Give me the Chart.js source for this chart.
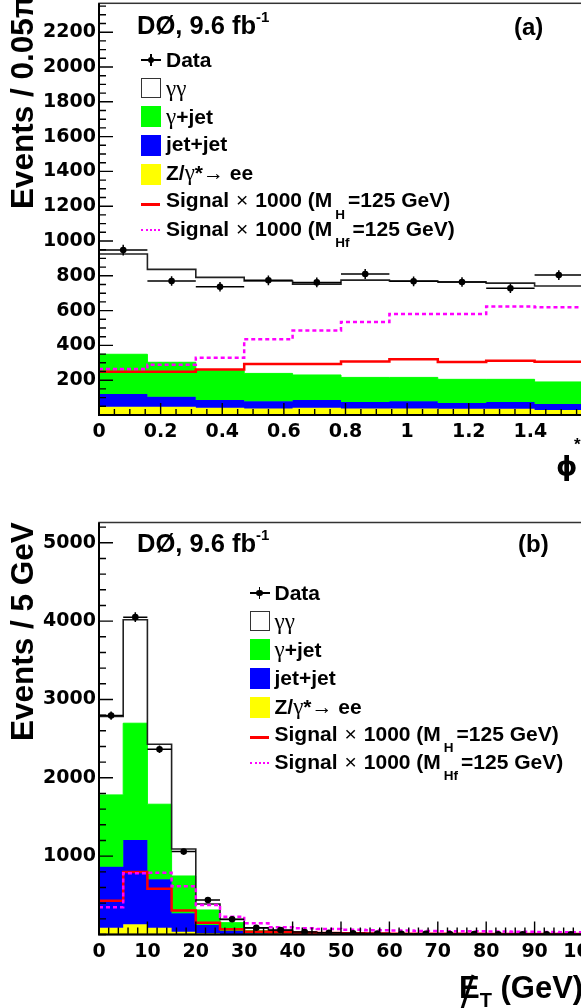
<!DOCTYPE html>
<html>
<head>
<meta charset="utf-8">
<script src="https://cdn.jsdelivr.net/npm/chart.js@4.4.0/dist/chart.umd.min.js"></script>
<style>
  html, body { margin: 0; padding: 0; width: 581px; height: 1008px; overflow: hidden; background: #fff; }
  canvas { position: absolute; left: 0; }
  #overlay { position: absolute; left: 0; top: 0; width: 581px; height: 1008px; }
  .t { position: absolute; white-space: nowrap; font-family: "Liberation Sans", Arial, sans-serif;
       font-weight: bold; color: #000; line-height: 1; }
  .g { font-family: "Liberation Serif", serif; font-weight: normal; font-size: 23px; }
  .n { font-weight: normal; }
  .x { font-weight: normal; margin: 0 7px; }
  .sb { font-size: 13.5px; position: relative; top: 11.5px; margin: 0 3px; }
  .sp { font-size: 15px; position: relative; top: -12px; }
  .mk { position: absolute; box-sizing: border-box; }
</style>
</head>
<body>
<canvas id="phiChart" width="640" height="500" style="top:0"></canvas>
<canvas id="metChart" width="640" height="508" style="top:500px"></canvas>
<div id="overlay"></div>
<script>
// (a) phi*, bins of 0.05*pi
const phiEdges  = [0, 0.1571, 0.3142, 0.4712, 0.6283, 0.7854, 0.9425, 1.0996, 1.2566, 1.4137, 1.5708];
const phiData   = [948, 770, 737, 774, 762, 810, 768, 764, 728, 804];
const phiGG     = [576, 534, 536, 531, 522, 559, 554, 559, 553, 551];
const phiGJet   = [228, 198, 169, 160, 144, 141, 137, 136, 130, 127];
const phiJetJet = [73, 57, 44, 41, 44, 37, 41, 33, 39, 34];
const phiZee    = [48, 48, 42, 38, 42, 38, 38, 36, 36, 29];
const phiSigH   = [249, 249, 262, 293, 293, 308, 320, 304, 312, 306];
const phiSigHf  = [264, 289, 329, 435, 486, 534, 580, 580, 624, 619];

// (b) missing ET, 5 GeV bins
const metEdges  = [0, 5, 10, 15, 20, 25, 30, 35, 40, 45, 50, 55, 60, 65, 70, 75, 80, 85, 90, 95, 100];
const metData   = [2794, 4051, 2365, 1058, 441, 194, 87, 57, 32, 22, 15, 12, 10, 8, 6, 5, 4, 3, 3, 2];
const metGG     = [1000, 1320, 766, 345, 77, 40, 37, 27, 18, 12, 8, 6, 5, 4, 3, 3, 2, 2, 2, 1];
const metGJet   = [916, 1490, 958, 476, 192, 106, 35, 15, 8, 5, 4, 3, 2, 2, 1, 1, 1, 1, 1, 1];
const metJetJet = [781, 1075, 620, 236, 106, 39, 8, 5, 3, 2, 2, 1, 1, 1, 1, 1, 1, 0, 0, 0];
const metZee    = [85, 132, 85, 35, 15, 6, 4, 3, 2, 2, 1, 1, 1, 1, 1, 0, 0, 0, 0, 0];
const metSigH   = [432, 798, 585, 305, 151, 66, 36, 28, 22, 18, 15, 13, 11, 10, 9, 8, 7, 6, 6, 5];
const metSigHf  = [347, 782, 789, 616, 377, 227, 143, 92, 80, 70, 60, 55, 50, 45, 42, 40, 38, 35, 33, 30];

const legendRows = [
  'Data',
  '<span class="g">γγ</span>',
  '<span class="g">γ</span>+jet',
  'jet+jet',
  'Z/<span class="g">γ</span>*<span class="n">→</span> ee',
  'Signal<span class="x">×</span>1000 (M<span class="sb">H</span>=125 GeV)',
  'Signal<span class="x">×</span>1000 (M<span class="sb">Hf</span>=125 GeV)'
];

function steps(edges, vals) {
  const pts = vals.map((v, i) => ({ x: edges[i], y: v }));
  pts.push({ x: edges[edges.length - 1], y: vals[vals.length - 1] });
  return pts;
}

function stack(...arrs) {
  return arrs[0].map((_, i) => arrs.reduce((s, a) => s + a[i], 0));
}

function isMultiple(v, m) {
  return Math.abs(v / m - Math.round(v / m)) < 1e-6;
}

function histDatasets(edges, s) {
  const centers = edges.slice(0, -1).map((e, i) => (e + edges[i + 1]) / 2);
  const line = { stepped: 'before', pointRadius: 0, pointHoverRadius: 0, fill: false };
  return [
    { label: 'Data', data: s.data.map((v, i) => ({ x: centers[i], y: v })), showLine: false,
      pointRadius: 3.3, pointHoverRadius: 0, pointBackgroundColor: '#000', pointBorderWidth: 0 },
    { ...line, label: 'Signal Hf', data: steps(edges, s.sigHf), borderColor: '#ff00ff', borderWidth: 2.5, borderDash: [4, 3] },
    { ...line, label: 'Signal H', data: steps(edges, s.sigH), borderColor: '#ff0000', borderWidth: 2.5 },
    { ...line, label: 'gg', data: steps(edges, stack(s.zee, s.jj, s.gj, s.gg)), borderColor: '#222', borderWidth: 1.6 },
    { ...line, label: 'g+jet', data: steps(edges, stack(s.zee, s.jj, s.gj)), borderColor: '#00ff00', backgroundColor: '#00ff00', borderWidth: 1, fill: '+1' },
    { ...line, label: 'jet+jet', data: steps(edges, stack(s.zee, s.jj)), borderColor: '#0000ff', backgroundColor: '#0000ff', borderWidth: 1, fill: '+1' },
    { ...line, label: 'Zee', data: steps(edges, s.zee), borderColor: '#ffff00', backgroundColor: '#ffff00', borderWidth: 1, fill: 'origin' }
  ];
}

// data points: horizontal bin bars and sqrt(N) vertical bars
function errBars(edges, values) {
  return {
    id: 'errBars',
    afterDatasetsDraw(chart) {
      const { ctx, chartArea: a, scales: { x, y } } = chart;
      ctx.save();
      ctx.beginPath();
      ctx.rect(a.left, a.top, a.right - a.left, a.bottom - a.top);
      ctx.clip();
      ctx.strokeStyle = '#000';
      ctx.lineWidth = 1.5;
      values.forEach((v, i) => {
        const py = y.getPixelForValue(v);
        const x0 = x.getPixelForValue(edges[i]), x1 = x.getPixelForValue(edges[i + 1]);
        const e = Math.sqrt(v);
        ctx.beginPath();
        ctx.moveTo(x0, py); ctx.lineTo(x1, py);
        ctx.moveTo((x0 + x1) / 2, y.getPixelForValue(v - e));
        ctx.lineTo((x0 + x1) / 2, y.getPixelForValue(v + e));
        ctx.stroke();
      });
      ctx.restore();
    }
  };
}

// ROOT style frame with ticks pointing inwards
function frameTicks(t) {
  return {
    id: 'frameTicks',
    afterDatasetsDraw(chart) {
      const { ctx, chartArea: a, scales: { x, y } } = chart;
      ctx.save();
      ctx.strokeStyle = '#000';
      ctx.lineWidth = 1.4;
      ctx.beginPath();
      x.ticks.forEach(tk => {
        const px = x.getPixelForValue(tk.value);
        ctx.moveTo(px, a.bottom);
        ctx.lineTo(px, a.bottom - (tk.label !== '' ? t.xMajor : t.xMinor));
      });
      y.ticks.forEach(tk => {
        const py = y.getPixelForValue(tk.value);
        ctx.moveTo(a.left, py);
        ctx.lineTo(a.left + (tk.label !== '' ? t.yMajor : t.yMinor), py);
      });
      ctx.stroke();
      ctx.strokeStyle = '#333';
      ctx.lineWidth = 1.5;
      ctx.strokeRect(a.left, a.top, a.right - a.left, a.bottom - a.top);
      ctx.strokeStyle = '#000';
      ctx.lineWidth = 2;
      ctx.beginPath();
      ctx.moveTo(a.left, a.top); ctx.lineTo(a.left, a.bottom); ctx.lineTo(a.right, a.bottom);
      ctx.stroke();
      ctx.restore();
    }
  };
}

const tickFont = { family: '"DejaVu Sans", sans-serif', size: 19, weight: 'bold' };

function makeHist(id, edges, s, o) {
  return new Chart(document.getElementById(id), {
    type: 'line',
    data: { datasets: histDatasets(edges, s) },
    options: {
      responsive: false,
      animation: false,
      devicePixelRatio: 1,
      events: [],
      layout: { padding: o.padding },
      plugins: { legend: { display: false }, tooltip: { enabled: false } },
      scales: {
        x: {
          type: 'linear', min: edges[0], max: edges[edges.length - 1],
          grid: { display: false, drawTicks: false }, border: { display: false },
          ticks: {
            stepSize: o.xMinor, includeBounds: false, autoSkip: false, maxRotation: 0,
            padding: 6, font: tickFont, color: '#000',
            callback: v => isMultiple(v, o.xMajor) ? String(Math.round(v * 10) / 10) : ''
          },
          afterFit: sc => { sc.height = o.xHeight; sc.paddingLeft = 0; sc.paddingRight = 0; }
        },
        y: {
          type: 'linear', min: 0, max: o.yMax,
          grid: { display: false, drawTicks: false }, border: { display: false },
          ticks: {
            stepSize: o.yMinor, includeBounds: false, autoSkip: false,
            padding: 3, font: tickFont, color: '#000',
            callback: v => (v > 0 && isMultiple(v, o.yMajor)) ? String(v) : ''
          },
          afterFit: sc => { sc.width = 99; sc.paddingTop = 0; sc.paddingBottom = 0; }
        }
      }
    },
    plugins: [errBars(edges, s.data), frameTicks(o.ticks)]
  });
}

makeHist('phiChart', phiEdges,
  { data: phiData, gg: phiGG, gj: phiGJet, jj: phiJetJet, zee: phiZee, sigH: phiSigH, sigHf: phiSigHf },
  { padding: { left: 0, top: 3, right: 57, bottom: 0 }, xHeight: 85, yMax: 2366,
    xMinor: 0.05, xMajor: 0.2, yMinor: 50, yMajor: 200,
    ticks: { xMajor: 12, xMinor: 6, yMajor: 14, yMinor: 7 } });

makeHist('metChart', metEdges,
  { data: metData, gg: metGG, gj: metGJet, jj: metJetJet, zee: metZee, sigH: metSigH, sigHf: metSigHf },
  { padding: { left: 0, top: 22.5, right: 57, bottom: 0 }, xHeight: 73.5, yMax: 5259,
    xMinor: 2, xMajor: 10, yMinor: 200, yMajor: 1000,
    ticks: { xMajor: 13, xMinor: 7, yMajor: 14, yMinor: 7 } });

// ---- text and legend overlay ----
const overlay = document.getElementById('overlay');

function put(html, x, baseline, fs, extra) {
  const d = document.createElement('div');
  d.className = 't';
  d.style.fontSize = fs + 'px';
  d.style.left = x + 'px';
  d.style.top = (baseline - 0.846 * fs) + 'px';
  if (extra) Object.assign(d.style, extra);
  d.innerHTML = html;
  overlay.appendChild(d);
  return d;
}

function putRot(text, baselineX, startY, fs) {
  const d = put(text, 0, 0.846 * fs, fs);
  d.style.transformOrigin = '0 0';
  d.style.transform = `translate(${baselineX - 0.846 * fs}px, ${startY}px) rotate(-90deg)`;
}

function box(x, y, w, h, style) {
  const d = document.createElement('div');
  d.className = 'mk';
  Object.assign(d.style, { left: x + 'px', top: y + 'px', width: w + 'px', height: h + 'px' }, style);
  overlay.appendChild(d);
  return d;
}

function legend(dx, dy) {
  const base = [66.7, 94.8, 122.9, 151, 179.1, 207.2, 235.3];
  const mx = 141 + dx;
  legendRows.forEach((txt, i) => put(txt, 166 + dx, base[i] + dy, 21));
  // data marker
  box(mx, 59 + dy, 20, 1.5, { background: '#000' });
  box(mx + 9.25, 54 + dy, 1.5, 12, { background: '#000' });
  box(mx + 6.7, 56.5 + dy, 6.6, 6.6, { background: '#000', borderRadius: '50%' });
  // filled boxes
  box(mx, 78 + dy, 20, 20, { background: '#fff', border: '1.5px solid #333' });
  box(mx, 106 + dy, 20, 21, { background: '#00ff00' });
  box(mx, 135 + dy, 20, 21, { background: '#0000ff' });
  box(mx, 163.5 + dy, 20, 21, { background: '#ffff00' });
  // signal lines
  box(mx, 203 + dy, 19, 2.5, { background: '#ff0000' });
  box(mx, 229 + dy, 19, 0, { borderTop: '2.5px dotted #ff00ff' });
}

// panel (a)
putRot('Events / 0.05π', 34, 209, 31.5);
put('DØ, 9.6 fb<span class="sp">-1</span>', 137, 35, 25.5);
put('(a)', 514, 35, 24);
legend(0, 0);
put('ϕ', 556, 474.5, 27, { fontFamily: '"DejaVu Sans", sans-serif' });
put('*', 574, 450, 17);

// panel (b)
putRot('Events / 5 GeV', 34, 741, 31.5);
put('DØ, 9.6 fb<span class="sp">-1</span>', 137, 553, 25.5);
put('(b)', 518, 552, 24);
legend(108.5, 533.3);
put('E<span style="font-size:20px;position:relative;top:9px">T</span> (GeV)', 459, 998, 31);
box(465.5, 974, 2.6, 36, { background: '#000', transform: 'rotate(18deg)' });
</script>
</body>
</html>
